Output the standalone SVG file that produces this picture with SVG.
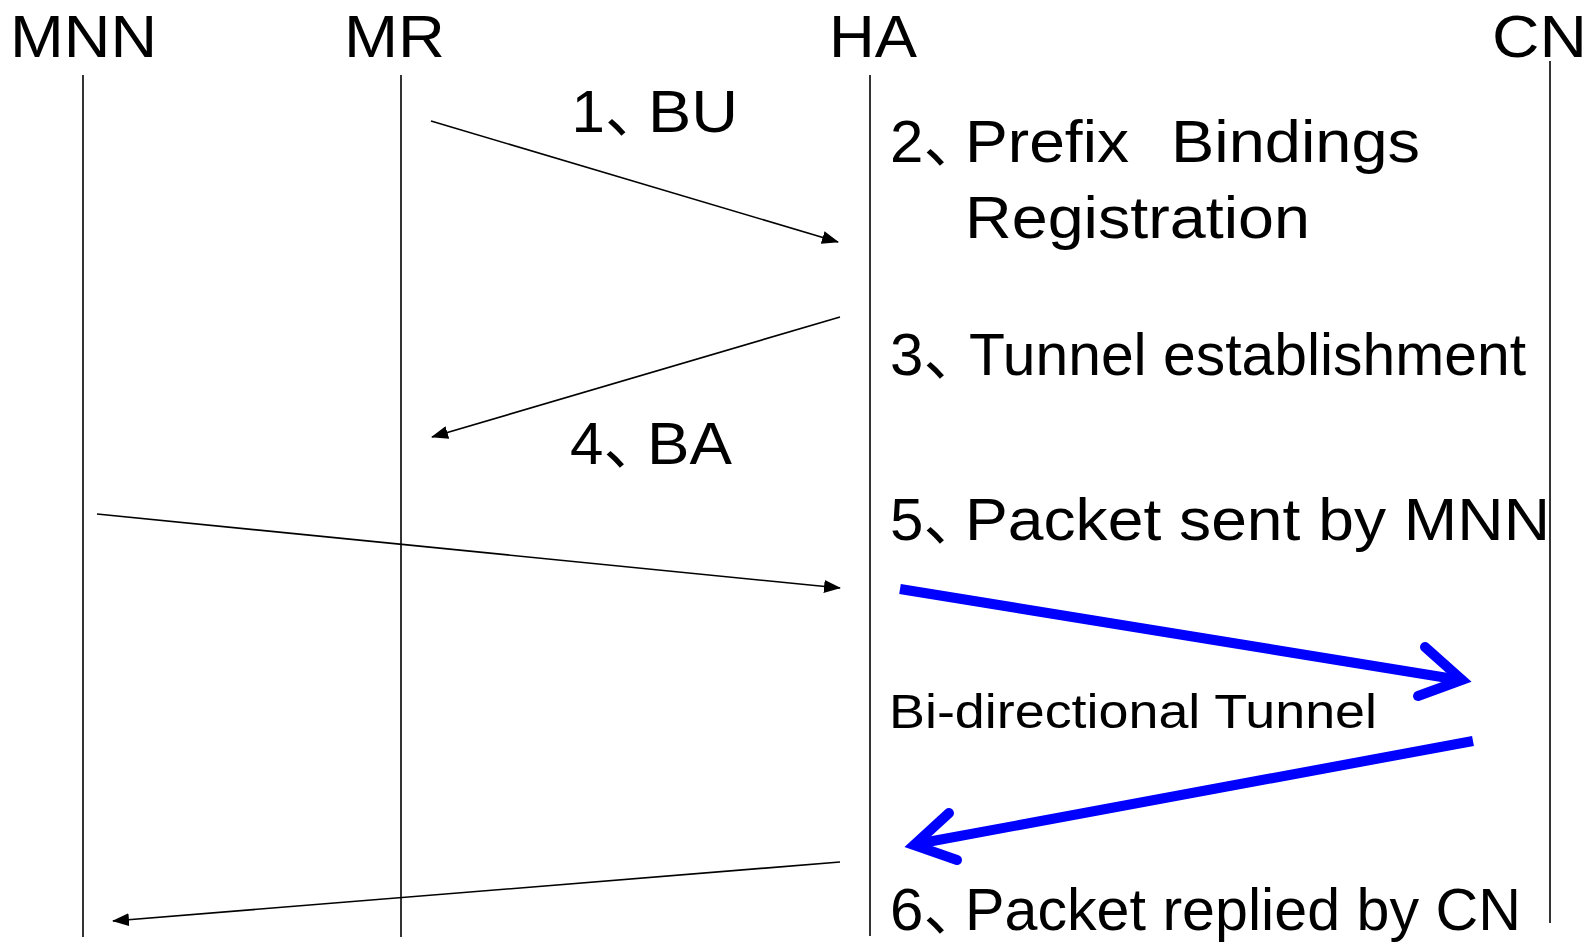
<svg xmlns="http://www.w3.org/2000/svg" width="1590" height="944" viewBox="0 0 1590 944">
  <style>
    text { font-family: "Liberation Sans", "Noto Sans CJK SC", sans-serif; fill: #000; }
    .hdr { font-size: 60px; }
    .step { font-size: 60px; }
    .small { font-size: 48px; }
    .dun { letter-spacing: -22px; }
    .life { stroke: #000; stroke-width: 1.6; fill: none; }
    .msg { stroke: #000; stroke-width: 1.6; fill: none; marker-end: url(#tip); }
    .tun { stroke: #0000ff; stroke-width: 10; fill: none; stroke-linecap: butt; }
    .tunhead { stroke: #0000ff; stroke-width: 10; fill: none; stroke-linecap: round; stroke-linejoin: miter; stroke-miterlimit: 10; }
  </style>
  <defs>
    <marker id="tip" markerUnits="userSpaceOnUse" markerWidth="17" markerHeight="13" refX="16" refY="6.5" orient="auto">
      <path d="M0,0 L17,6.5 L0,13 z" fill="#000"/>
    </marker>
  </defs>
  <rect width="1590" height="944" fill="#fff"/>

  <!-- participants: header label + lifeline -->
  <g id="MNN">
    <text class="hdr" x="10" y="57" textLength="147" lengthAdjust="spacingAndGlyphs">MNN</text>
    <line class="life" x1="83" y1="75" x2="83" y2="937"/>
  </g>
  <g id="MR">
    <text class="hdr" x="344" y="57" textLength="101" lengthAdjust="spacingAndGlyphs">MR</text>
    <line class="life" x1="401" y1="75" x2="401" y2="937"/>
  </g>
  <g id="HA">
    <text class="hdr" x="829" y="57" textLength="88" lengthAdjust="spacingAndGlyphs">HA</text>
    <line class="life" x1="870" y1="75" x2="870" y2="936"/>
  </g>
  <g id="CN">
    <text class="hdr" x="1492" y="57" textLength="95" lengthAdjust="spacingAndGlyphs">CN</text>
    <line class="life" x1="1550" y1="61" x2="1550" y2="923"/>
  </g>

  <!-- message arrows -->
  <g id="connectors">
    <line class="msg" x1="431" y1="121" x2="838" y2="242"/>
    <line class="msg" x1="840" y1="317" x2="432" y2="437"/>
    <line class="msg" x1="97" y1="514" x2="840" y2="588"/>
    <line class="msg" x1="840" y1="862" x2="113" y2="921"/>
    <!-- bi-directional tunnel HA <-> CN -->
    <line class="tun" x1="900" y1="589" x2="1454" y2="679"/>
    <polyline class="tunhead" points="1425,647 1462,680 1418,696"/>
    <line class="tun" x1="1473" y1="741" x2="922" y2="843"/>
    <polyline class="tunhead" points="949,813 914,845 957,860"/>
  </g>

  <!-- step labels -->
  <g id="step1">
    <text class="step" x="571.5" y="132">1<tspan class="dun">、</tspan><tspan x="648" textLength="90" lengthAdjust="spacingAndGlyphs">BU</tspan></text>
  </g>
  <g id="step2">
    <text class="step" x="890" y="162">2<tspan class="dun">、</tspan><tspan x="965" textLength="164" lengthAdjust="spacingAndGlyphs">Prefix</tspan> <tspan x="1171" textLength="249" lengthAdjust="spacingAndGlyphs">Bindings</tspan></text>
    <text class="step" x="965" y="238" textLength="345" lengthAdjust="spacingAndGlyphs">Registration</text>
  </g>
  <g id="step3">
    <text class="step" x="890" y="375">3<tspan class="dun">、</tspan><tspan x="969" textLength="557" lengthAdjust="spacingAndGlyphs">Tunnel establishment</tspan></text>
  </g>
  <g id="step4">
    <text class="step" x="570" y="464">4<tspan class="dun">、</tspan><tspan x="647" textLength="85" lengthAdjust="spacingAndGlyphs">BA</tspan></text>
  </g>
  <g id="step5">
    <text class="step" x="890" y="540">5<tspan class="dun">、</tspan><tspan x="965" textLength="585" lengthAdjust="spacingAndGlyphs">Packet sent by MNN</tspan></text>
  </g>
  <g id="tunnel-label">
    <text class="small" x="889" y="728" textLength="488" lengthAdjust="spacingAndGlyphs">Bi-directional Tunnel</text>
  </g>
  <g id="step6">
    <text class="step" x="890" y="930">6<tspan class="dun">、</tspan><tspan x="965" textLength="556" lengthAdjust="spacingAndGlyphs">Packet replied by CN</tspan></text>
  </g>
</svg>
